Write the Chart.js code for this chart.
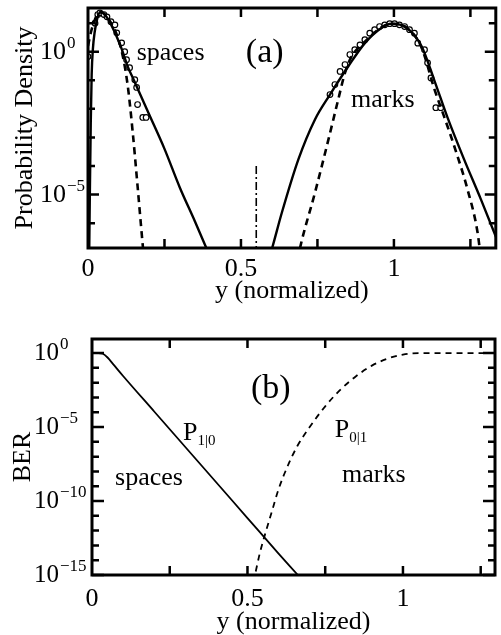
<!DOCTYPE html>
<html><head><meta charset="utf-8">
<script src="https://cdn.jsdelivr.net/npm/chart.js@4"></script>
<style>
html,body{margin:0;padding:0;background:#fff;width:501px;height:635px;overflow:hidden;}
#wa{position:absolute;left:0;top:0;width:501px;height:310px;}
#wb{position:absolute;left:0;top:318px;width:501px;height:317px;}
</style></head><body>
<div id="wa"><canvas id="ca"></canvas></div>
<div id="wb"><canvas id="cb"></canvas></div>
<script>
// ---------- Panel (a): probability density (values as log10) ----------
const spacesSolidX   = [0.003,0.006,0.009,0.012,0.016,0.022,0.030,0.040,0.050,0.065,0.080,0.095,0.110,0.130,0.150,0.200,0.250,0.300,0.350,0.400];
const spacesSolidLog = [-8,-5,-2.5,-0.8,0.1,0.7,1.15,1.38,1.35,1.15,0.85,0.5,0.1,-0.52,-1.0,-2.2,-3.4,-4.75,-5.95,-7.2];
const spacesDashX    = [0.000,0.010,0.020,0.030,0.040,0.050,0.070,0.094,0.114,0.130,0.146,0.162,0.175,0.185];
const spacesDashLog  = [0.2,0.7,1.05,1.3,1.38,1.35,1.1,0.6,-0.17,-1.2,-2.8,-4.7,-6.3,-7.5];
const spacesDotsX    = [0.000,0.023,0.032,0.039,0.052,0.062,0.075,0.088,0.094,0.110,0.120,0.126,0.136,0.153,0.159,0.162,0.179,0.190];
const spacesDotsLog  = [-0.17,1.0,1.3,1.36,1.3,1.22,1.05,0.94,0.66,0.31,0.0,-0.28,-0.56,-0.98,-1.25,-1.85,-2.3,-2.3];
const marksSolidX    = [0.590,0.602,0.634,0.688,0.742,0.791,0.851,0.905,0.959,0.991,1.040,1.090,1.132,1.175,1.229,1.284,1.338,1.360];
const marksSolidLog  = [-7.3,-6.87,-5.62,-3.76,-2.37,-1.5,-0.51,0.3,0.83,0.98,0.85,0.2,-1.0,-2.3,-3.76,-5.16,-6.6,-7.2];
const marksDashX     = [0.685,0.693,0.742,0.786,0.818,0.840,0.860,0.905,0.959,0.990,1.040,1.090,1.132,1.165,1.197,1.240,1.273,1.285];
const marksDashLog   = [-7.3,-6.87,-4.93,-3.07,-1.67,-0.74,-0.2,0.35,0.85,0.98,0.85,0.15,-1.3,-2.3,-3.3,-4.8,-6.3,-7.3];
const marksDotsX     = [0.791,0.807,0.824,0.840,0.856,0.872,0.889,0.905,0.921,0.937,0.953,0.970,0.986,1.002,1.018,1.035,1.051,1.067,1.078,1.100,1.110,1.121,1.137,1.153];
const marksDotsLog   = [-1.5,-1.15,-0.69,-0.45,-0.1,0.07,0.24,0.42,0.65,0.77,0.88,0.94,0.98,0.98,0.94,0.88,0.77,0.65,0.3,0.07,-0.39,-0.92,-1.96,-1.96];
const thresholdX     = [0.55,0.55];
const thresholdLog   = [-4.0,-6.87];
const aXTicks  = [0,0.25,0.5,0.75,1,1.25];
const aXLabels = {0:'0',0.5:'0.5',1:'1'};
const aYTickExp = [-6,-5,-4,-3,-2,-1,0,1];

// ---------- Panel (b): BER (values as log10) ----------
const p10X   = [0.000,0.020,0.035,0.050,0.070,0.100,0.200,0.300,0.400,0.500,0.600,0.662,0.700];
const p10Log = [0,0,-0.05,-0.3,-0.8,-1.55,-3.95,-6.35,-8.75,-11.15,-13.55,-15.0,-15.9];
const p01X   = [0.510,0.524,0.540,0.560,0.580,0.600,0.630,0.660,0.700,0.750,0.800,0.850,0.900,0.950,1.000,1.050,1.100,1.200,1.300];
const p01Log = [-16.2,-15,-13.5,-12.0,-10.6,-9.2,-7.6,-6.3,-5.0,-3.6,-2.45,-1.55,-0.85,-0.38,-0.1,0,0,0,0];
const bXTicks  = [0,0.25,0.5,0.75,1,1.25];
const bXLabels = {0:'0',0.5:'0.5',1:'1'};
const bYTickExp = [-15,-14,-13,-12,-11,-10,-9,-8,-7,-6,-5,-4,-3,-2,-1,0];

const FONT = '"Liberation Serif","Times New Roman",serif';
const pts = (xs, ls) => xs.map((x,i)=>({x, y: Math.pow(10, ls[i])}));

const frameTicks = {
  id:'frameTicks',
  afterDatasetsDraw(chart, args, o){
    const {ctx, chartArea:a, scales:{x,y}} = chart;
    ctx.save();
    ctx.strokeStyle='#000';
    ctx.lineWidth=o.tickWidth;
    ctx.beginPath();
    x.ticks.forEach(t=>{
      const px = x.getPixelForValue(t.value);
      if (px<=a.left+1 || px>=a.right-1) return;
      ctx.moveTo(px,a.bottom); ctx.lineTo(px,a.bottom-o.xLen);
      ctx.moveTo(px,a.top); ctx.lineTo(px,a.top+o.xLen);
    });
    y.ticks.forEach(t=>{
      const py = y.getPixelForValue(t.value);
      if (py<a.top-0.5 || py>a.bottom+0.5) return;
      const L = t.major ? o.yMajLen : o.yMinLen;
      ctx.moveTo(a.left,py); ctx.lineTo(a.left+L,py);
      ctx.moveTo(a.right,py); ctx.lineTo(a.right-L,py);
    });
    ctx.stroke();
    ctx.lineWidth=o.frameWidth;
    ctx.strokeRect(a.left,a.top,a.right-a.left,a.bottom-a.top);
    // power-of-ten tick labels of the log axis: "10" with a raised exponent
    ctx.fillStyle='#000';
    ctx.textBaseline='alphabetic';
    ctx.textAlign='left';
    y.ticks.forEach(t=>{
      if (!t.major) return;
      const e = Math.round(Math.log10(t.value));
      const py = y.getPixelForValue(t.value);
      const exp = e===0 ? '0' : '\u2212'+Math.abs(e);
      ctx.font = o.labelSize+'px '+FONT;
      const bw = ctx.measureText('10').width;
      ctx.fillText('10', o.labelX, py+o.baseDy);
      ctx.font = o.expSize+'px '+FONT;
      ctx.fillText(exp, o.labelX+bw+1, py+o.baseDy-o.expRaise);
    });
    ctx.restore();
  }
};
const textLabels = {
  id:'textLabels',
  afterDraw(chart, args, o){
    const {ctx, scales:{x,y}} = chart;
    ctx.save();
    ctx.fillStyle='#000';
    ctx.textAlign='left'; ctx.textBaseline='alphabetic';
    o.items.forEach(it=>{
      const px = x.getPixelForValue(it.x), py = y.getPixelForValue(Math.pow(10,it.y));
      ctx.font = it.size+'px '+FONT;
      ctx.fillText(it.text, px, py);
      if (it.sub){
        const w = ctx.measureText(it.text).width;
        ctx.font = it.subSize+'px '+FONT;
        ctx.fillText(it.sub, px+w, py+it.subDy);
      }
    });
    ctx.restore();
  }
};

function makeChart(id, cfg){
  return new Chart(document.getElementById(id), {
    type:'line',
    data:{datasets:cfg.datasets},
    options:{
      responsive:true, maintainAspectRatio:false, animation:false, devicePixelRatio:1,
      layout:{padding:cfg.padding},
      plugins:{legend:{display:false}, tooltip:{enabled:false},
        frameTicks:cfg.frame, textLabels:{items:cfg.texts}},
      elements:{point:{radius:0}},
      scales:{
        x:{type:'linear', min:cfg.xMin, max:cfg.xMax,
           grid:{display:false, drawTicks:false}, border:{display:false},
           afterBuildTicks:s=>{ s.ticks = cfg.xTicks.map(v=>({value:v})); },
           afterFit:s=>{ s.height = cfg.xHeight; s.paddingLeft = 0; s.paddingRight = 0; },
           ticks:{autoSkip:false, maxRotation:0, padding:cfg.xTickPad, color:'#000',
             font:{family:FONT, size:26},
             callback:v=> (cfg.xLabels[v]!==undefined ? cfg.xLabels[v] : '')},
           title:{display:true, text:'y (normalized)', color:'#000', font:{family:FONT,size:26,lineHeight:1},
             padding:{top:0,bottom:cfg.xTitlePad}}
        },
        y:{type:'logarithmic', min:cfg.yMin, max:cfg.yMax,
           grid:{display:false, drawTicks:false}, border:{display:false},
           afterBuildTicks:s=>{ s.ticks = cfg.yTickExp.map(e=>({value:Math.pow(10,e), major:e%5===0})); },
           afterFit:s=>{ s.width = cfg.yWidth; s.paddingTop = 0; s.paddingBottom = 0; },
           ticks:{display:false},
           title:{display:true, text:cfg.yTitle, color:'#000', font:{family:FONT,size:26},
             padding:{top:cfg.yTitlePad,bottom:0}}
        }
      }
    },
    plugins:[frameTicks, textLabels]
  });
}

const solid = (data, w)=>({data, borderColor:'#000', borderWidth:w, pointRadius:0, fill:false, cubicInterpolationMode:'monotone'});
const dashed = (data, w, dash)=>({data, borderColor:'#000', borderWidth:w, borderDash:dash, pointRadius:0, fill:false, cubicInterpolationMode:'monotone'});
const dots = data=>({data, showLine:false, pointRadius:2.8, pointBorderWidth:1.2, pointBorderColor:'#000', pointBackgroundColor:'#fff'});

makeChart('ca', {
  padding:{left:0,right:3,top:8,bottom:0},
  xMin:0, xMax:1.333, yMin:Math.pow(10,-6.87), yMax:Math.pow(10,1.53),
  xTicks:aXTicks, xLabels:aXLabels, yTickExp:aYTickExp,
  xHeight:62, yWidth:88, xTickPad:6, xTitlePad:6, yTitlePad:10,
  yTitle:'Probability Density',
  frame:{tickWidth:2.5, xLen:9, yMajLen:11, yMinLen:7, frameWidth:3,
         labelX:40, labelSize:26, expSize:17, baseDy:7, expRaise:11},
  texts:[
    {text:'spaces', x:0.159, y:-0.28, size:26},
    {text:'(a)', x:0.516, y:-0.35, size:34},
    {text:'marks', x:0.86, y:-1.95, size:26}
  ],
  datasets:[
    solid(pts(spacesSolidX, spacesSolidLog), 2.4),
    dashed(pts(spacesDashX, spacesDashLog), 2.6, [7,5]),
    solid(pts(marksSolidX, marksSolidLog), 2.4),
    dashed(pts(marksDashX, marksDashLog), 2.6, [7,5]),
    {data:pts(thresholdX, thresholdLog), borderColor:'#000', borderWidth:1.6, borderDash:[8,3,2,3], pointRadius:0, fill:false},
    dots(pts(spacesDotsX, spacesDotsLog)),
    dots(pts(marksDotsX, marksDotsLog))
  ]
});

makeChart('cb', {
  padding:{left:0,right:6,top:21,bottom:0},
  xMin:0, xMax:1.296, yMin:1e-15, yMax:Math.pow(10,0.95),
  xTicks:bXTicks, xLabels:bXLabels, yTickExp:bYTickExp,
  xHeight:60, yWidth:92, xTickPad:9, xTitlePad:0, yTitlePad:8,
  yTitle:'BER',
  frame:{tickWidth:2.5, xLen:9, yMajLen:12, yMinLen:7, frameWidth:3,
         labelX:34, labelSize:25, expSize:17, baseDy:7, expRaise:11},
  texts:[
    {text:'(b)', x:0.511, y:-3.04, size:34},
    {text:'P', x:0.293, y:-5.9, size:26, sub:'1|0', subSize:15, subDy:5},
    {text:'spaces', x:0.074, y:-8.9, size:26},
    {text:'P', x:0.781, y:-5.7, size:26, sub:'0|1', subSize:15, subDy:5},
    {text:'marks', x:0.804, y:-8.7, size:26}
  ],
  datasets:[
    solid(pts(p10X, p10Log), 1.8),
    dashed(pts(p01X, p01Log), 1.8, [6,5])
  ]
});
</script>
</body></html>
